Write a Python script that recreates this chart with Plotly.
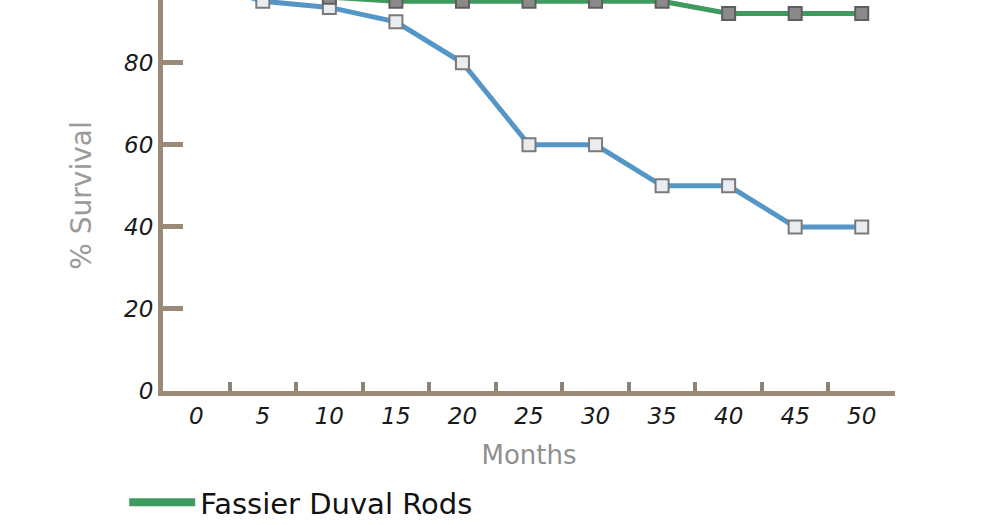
import plotly.graph_objects as go

months = ["0", "5", "10", "15", "20", "25", "30", "35", "40", "45", "50"]
fassier_duval = [100, 100, 96, 95, 95, 95, 95, 95, 92, 92, 92]
other_rods = [100, 95, 93.5, 90, 80, 60, 60, 50, 50, 40, 40]
y_ticks = [0, 20, 40, 60, 80, 100]

AXIS = "#9c8a78"
GREEN = "#3f9a5e"

fig = go.Figure()
fig.add_trace(go.Scatter(
    x=months, y=other_rods, mode="lines+markers", name="Other Rods",
    showlegend=False,
    line=dict(color="#5596c6", width=5),
    marker=dict(symbol="square", size=13, color="#e9edf1",
                line=dict(color="#7a7a7a", width=2)),
))
fig.add_trace(go.Scatter(
    x=months, y=fassier_duval, mode="lines+markers", name="Fassier Duval Rods",
    showlegend=False,
    line=dict(color=GREEN, width=5),
    marker=dict(symbol="square", size=13, color="#8a8a8a",
                line=dict(color="#5e5e5e", width=2)),
))
# legend entry (line only, as in the original key)
fig.add_trace(go.Scatter(
    x=[None], y=[None], mode="lines", name="Fassier Duval Rods",
    line=dict(color=GREEN, width=8),
))

fig.update_layout(
    width=1000, height=525,
    margin=dict(l=163, r=105, t=0, b=134, autoexpand=False),
    plot_bgcolor="white", paper_bgcolor="white",
    showlegend=True,
    legend=dict(
        x=-0.053, y=-0.285, xanchor="left", yanchor="middle",
        itemwidth=66,
        font=dict(family="DejaVu Sans", size=29, color="#111111"),
        bgcolor="rgba(0,0,0,0)",
    ),
    font=dict(family="DejaVu Sans"),
)

fig.update_xaxes(
    type="category",
    range=[-0.5, 10.5],
    automargin=False,
    showline=True, linecolor=AXIS, linewidth=5,
    ticks="inside", tickson="boundaries", ticklen=9, tickwidth=4,
    tickcolor="#8c8278",
    showgrid=False, zeroline=False,
    tickfont=dict(family="DejaVu Sans", size=23, color="#1a1a1a", style="italic"),
    title=dict(text="Months", font=dict(family="DejaVu Sans", size=26, color="#8f8f8f"),
               standoff=20),
)
fig.update_yaxes(
    range=[0, 95.3],
    tickvals=y_ticks,
    automargin=False,
    showline=True, linecolor=AXIS, linewidth=5,
    ticks="inside", ticklen=20, tickwidth=5, tickcolor=AXIS,
    showgrid=False, zeroline=False,
    tickfont=dict(family="DejaVu Sans", size=23, color="#1a1a1a", style="italic"),
    title=dict(text="% Survival", font=dict(family="DejaVu Sans", size=28, color="#9a9a9a"),
               standoff=26),
)

fig.write_html("out.html", config={"displayModeBar": False},
               post_script="document.body.style.margin='0';")
